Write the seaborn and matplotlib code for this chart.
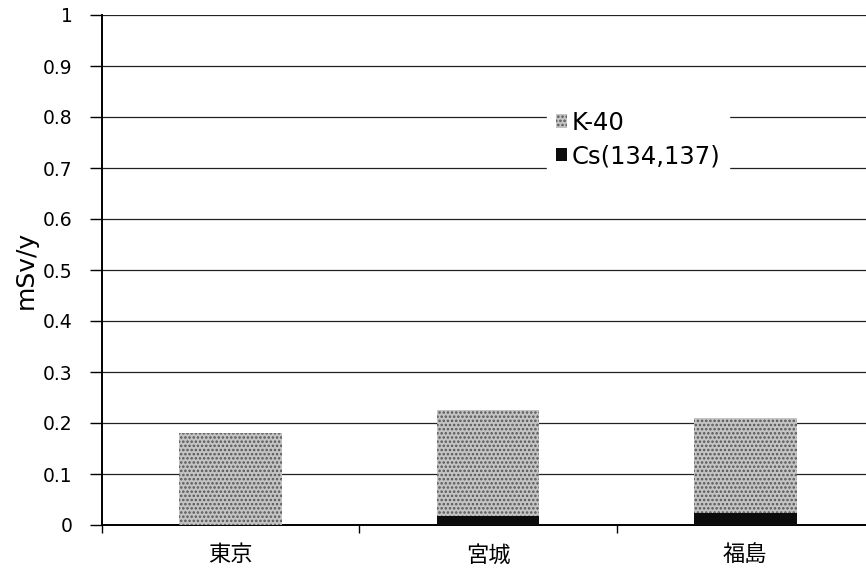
import matplotlib
matplotlib.use("Agg")
import matplotlib.pyplot as plt
from matplotlib.patches import Patch
import seaborn as sns

# Annual dose by region (mSv/y)
regions = ["東京", "宮城", "福島"]
cs_dose = [0.0, 0.018, 0.024]      # Cs(134,137)
k40_dose = [0.181, 0.208, 0.186]   # K-40
yticks = [0, 0.1, 0.2, 0.3, 0.4, 0.5, 0.6, 0.7, 0.8, 0.9, 1]
ytick_labels = ["0", "0.1", "0.2", "0.3", "0.4", "0.5", "0.6", "0.7", "0.8", "0.9", "1"]

# Stacked totals: K-40 sits on top of the caesium part
total_dose = [c + k for c, k in zip(cs_dose, k40_dose)]

sns.set_theme(style="white")
plt.rcParams["font.family"] = ["DejaVu Sans", "Noto Sans CJK JP"]
plt.rcParams["hatch.linewidth"] = 1.2
for key in ["text.color", "axes.labelcolor", "xtick.color", "ytick.color"]:
    plt.rcParams[key] = "black"

fig = plt.figure(figsize=(8.66, 5.71), dpi=100)
ax = fig.add_axes([102 / 866, 46 / 571, 772 / 866, 510 / 571])

k40_face = "#c4c4c4"
k40_hatch = "#555555"
cs_face = "#0c0c0c"

sns.barplot(x=regions, y=total_dose, color=k40_face, saturation=1,
            edgecolor=k40_hatch, hatch="....", width=0.4, linewidth=0,
            ax=ax, zorder=3)
sns.barplot(x=regions, y=cs_dose, color=cs_face, saturation=1, width=0.4,
            linewidth=0, ax=ax, zorder=4)

ax.set_xlim(-0.5, 2.5)
ax.set_ylim(0, 1)
ax.set_yticks(yticks)
ax.set_yticklabels(ytick_labels, fontsize=13.5)
ax.set_xticks([0, 1, 2])
ax.set_xticklabels(regions, fontsize=16)
ax.set_xticks([-0.5, 0.5, 1.5], minor=True)
ax.tick_params(axis="x", which="major", length=0, pad=14)
ax.tick_params(axis="x", which="minor", length=6, width=1, color="black",
               direction="out", bottom=True)
ax.tick_params(axis="y", length=9, width=1, color="black", direction="out",
               left=True, pad=12)
ax.set_ylabel("mSv/y", fontsize=18, labelpad=4)
ax.set_xlabel("")

ax.yaxis.grid(True, color="#222222", linewidth=0.9)
ax.set_axisbelow(True)
for side in ["top", "right"]:
    ax.spines[side].set_visible(False)
for side in ["left", "bottom"]:
    ax.spines[side].set_color("black")
    ax.spines[side].set_linewidth(1.4)

handles = [
    Patch(facecolor=k40_face, edgecolor=k40_hatch, hatch="....", linewidth=0,
          label="K-40"),
    Patch(facecolor=cs_face, edgecolor=cs_face, linewidth=0,
          label="Cs(134,137)"),
]
leg = ax.legend(handles=handles, loc="upper left",
                bbox_to_anchor=((535 - 102) / 772, (525 - 90) / 510),
                frameon=True, fontsize=17.5, handlelength=0.45, handleheight=0.45,
                handletextpad=0.2, labelspacing=0.4, borderpad=0.35,
                fancybox=False)
leg.get_frame().set_facecolor("white")
leg.get_frame().set_edgecolor("white")
leg.get_frame().set_alpha(1)

fig.savefig("out.png", dpi=100)
